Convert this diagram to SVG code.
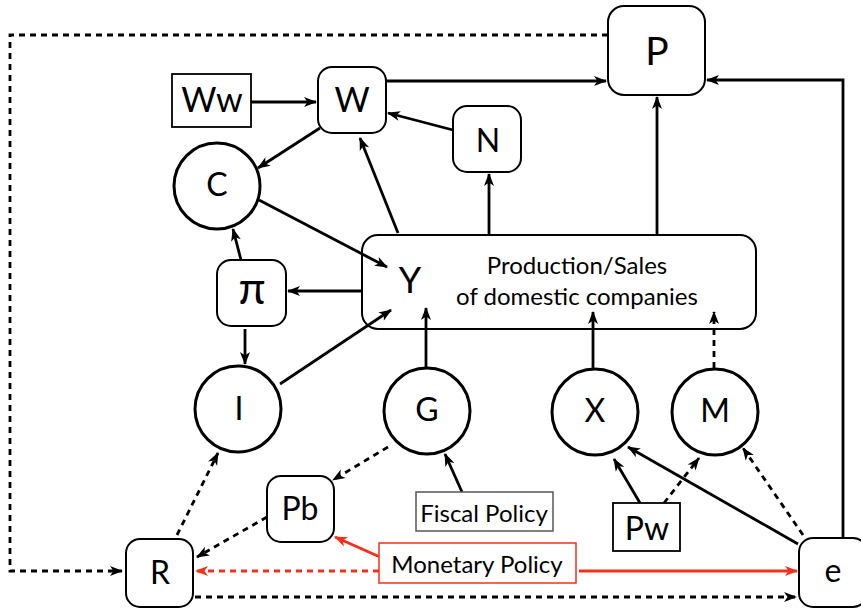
<svg xmlns="http://www.w3.org/2000/svg" width="861" height="609" viewBox="0 0 861 609">
<style>
text{font-family:Lato,"Open Sans","Liberation Sans",sans-serif;fill:#000;text-anchor:middle}
.nb{fill:#fff;stroke:#000;stroke-width:2}
.cb{fill:#fff;stroke:#000;stroke-width:3}
.sq{fill:#fff;stroke:#000;stroke-width:1.8}
.c{fill:none;stroke:#000;stroke-width:2.8}
.d{stroke-dasharray:6,5}
.r{stroke:#f5301a}
.big{font-size:32px}
.lbl{font-size:24px}
</style>
<defs>
<marker id="ah" markerUnits="userSpaceOnUse" markerWidth="14" markerHeight="12" refX="12" refY="5" orient="auto" overflow="visible">
<path d="M0,0 L13,5 L0,10 L3.5,5 Z" fill="#000"/>
</marker>
<marker id="ahr" markerUnits="userSpaceOnUse" markerWidth="14" markerHeight="12" refX="12" refY="5" orient="auto" overflow="visible">
<path d="M0,0 L13,5 L0,10 L3.5,5 Z" fill="#f5301a"/>
</marker>
</defs>
<g id="Y"><rect class="nb" x="362" y="235" width="394" height="94" rx="16"/><text x="410" y="293" font-size="36">Y</text><text class="lbl" x="577" y="274">Production/Sales</text><text class="lbl" x="577" y="305">of domestic companies</text></g>
<g id="connectors">
<path class="c" marker-end="url(#ah)" d="M251,102 L316,102"/>
<path class="c" marker-end="url(#ah)" d="M386,81 L606,81"/>
<path class="c" marker-end="url(#ah)" d="M453,130 L388,113"/>
<path class="c" marker-end="url(#ah)" d="M489,235 L489,174"/>
<path class="c" marker-end="url(#ah)" d="M657,235 L657,97"/>
<path class="c" marker-end="url(#ah)" d="M843,538 V80 H707"/>
<path class="c" marker-end="url(#ah)" d="M320,128 L258,168"/>
<path class="c" marker-end="url(#ah)" d="M259,200 L387,267"/>
<path class="c" marker-end="url(#ah)" d="M398,233 L360,138"/>
<path class="c" marker-end="url(#ah)" d="M362,291 L288,291"/>
<path class="c" marker-end="url(#ah)" d="M241,260 L233,229"/>
<path class="c" marker-end="url(#ah)" d="M245,329 V364"/>
<path class="c" marker-end="url(#ah)" d="M280,384 L391,310"/>
<path class="c" marker-end="url(#ah)" d="M426,367 V308"/>
<path class="c" marker-end="url(#ah)" d="M593,369 V312"/>
<path class="c" marker-end="url(#ah)" d="M462,492 L445,454"/>
<path class="c" marker-end="url(#ah)" d="M640,503 L614,459"/>
<path class="c" marker-end="url(#ah)" d="M798,544 L628,447"/>
<path class="c d" marker-end="url(#ah)" d="M714,368 V312"/>
<path class="c d" marker-end="url(#ah)" d="M608,35 H10 V571 H122"/>
<path class="c d" marker-end="url(#ah)" d="M388,447 L333,480"/>
<path class="c d" marker-end="url(#ah)" d="M267,517 L197,557"/>
<path class="c d" marker-end="url(#ah)" d="M177,535 L218,453"/>
<path class="c d" marker-end="url(#ah)" d="M195,597 L796,597"/>
<path class="c d" marker-end="url(#ah)" d="M664,503 L699,458"/>
<path class="c d" marker-end="url(#ah)" d="M803,535 L743,448"/>
<path class="c d r" marker-end="url(#ahr)" d="M379,571 L196,571"/>
<path class="c r" marker-end="url(#ahr)" d="M380,557 L335,537"/>
<path class="c r" marker-end="url(#ahr)" d="M579,571 L797,571"/>
</g>
<g id="P"><rect class="nb" x="608" y="6" width="97" height="89" rx="16"/><text x="657" y="65" font-size="39">P</text></g>
<g id="Ww"><rect class="sq" x="172" y="74" width="79" height="53"/><text x="212" y="112" font-size="34">Ww</text></g>
<g id="W"><rect class="nb" x="318" y="67" width="68" height="66" rx="14"/><text x="352" y="112" font-size="34">W</text></g>
<g id="N"><rect class="nb" x="453" y="106" width="68" height="66" rx="14"/><text class="big" x="488" y="152">N</text></g>
<g id="C"><circle class="cb" cx="217" cy="186" r="43"/><text class="big" x="217" y="196">C</text></g>
<g id="pi"><rect class="nb" x="217" y="260" width="69" height="66" rx="14"/><text x="252" y="304" font-size="44">π</text></g>
<g id="I"><circle class="cb" cx="238" cy="409" r="43"/><text class="big" x="239" y="420">I</text></g>
<g id="G"><circle class="cb" cx="427" cy="411" r="43"/><text class="big" x="427" y="421">G</text></g>
<g id="X"><circle class="cb" cx="595" cy="412" r="43"/><text class="big" x="595" y="422">X</text></g>
<g id="M"><circle class="cb" cx="715" cy="412" r="43"/><text class="big" x="715" y="422">M</text></g>
<g id="Pb"><rect class="nb" x="267" y="476" width="67" height="66" rx="14"/><text class="big" x="300" y="520">Pb</text></g>
<g id="FiscalPolicy"><rect x="416" y="492" width="137" height="39" fill="#fff" stroke="#555" stroke-width="1.5"/><text class="lbl" x="484" y="522">Fiscal Policy</text></g>
<g id="MonetaryPolicy"><rect x="379" y="543" width="197" height="40" fill="#fff" stroke="#f5301a" stroke-width="1.5"/><text class="lbl" x="477" y="573">Monetary Policy</text></g>
<g id="Pw"><rect class="sq" x="613" y="503" width="67" height="48"/><text class="big" x="647" y="540">Pw</text></g>
<g id="R"><rect class="nb" x="126" y="539" width="67" height="68" rx="14"/><text class="big" x="160" y="584">R</text></g>
<g id="e"><rect class="nb" x="799" y="538" width="68" height="69" rx="14"/><text class="big" x="833" y="582">e</text></g>
</svg>
